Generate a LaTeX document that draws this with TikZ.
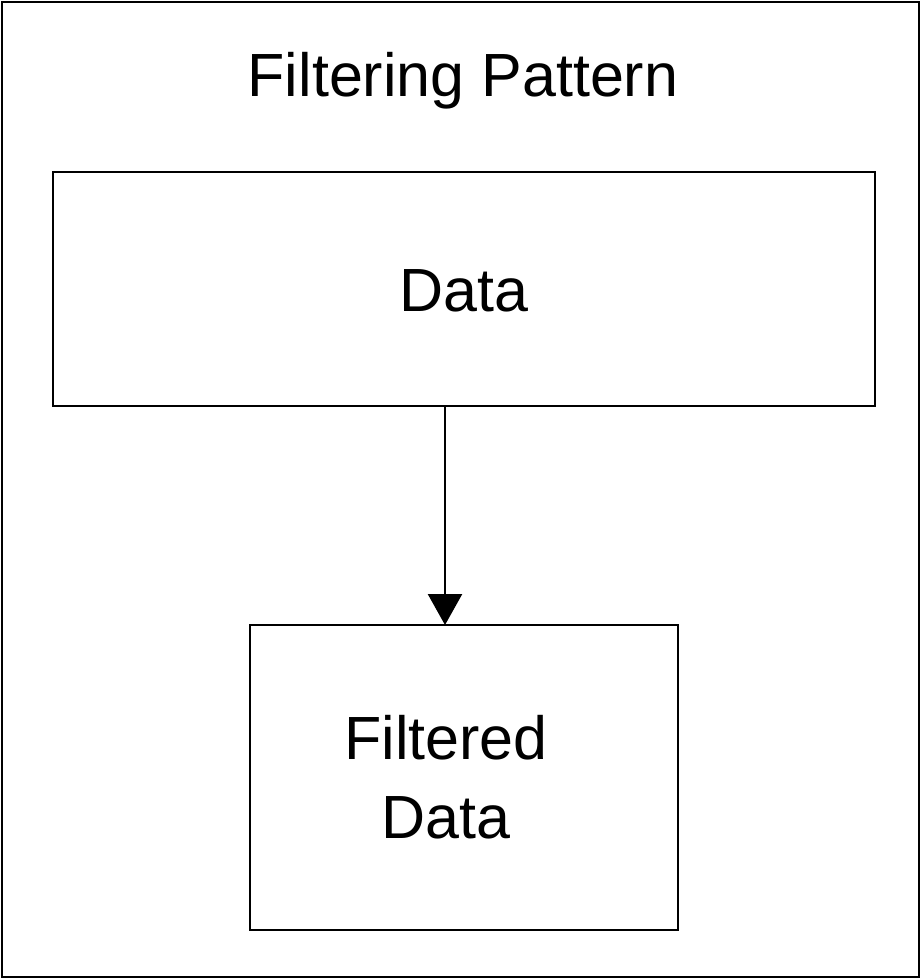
\documentclass[tikz,border=0pt]{standalone}
\usepackage{fontspec}
\setmainfont{Liberation Sans}
\usetikzlibrary{arrows.meta}
\begin{document}
\begin{tikzpicture}[x=1pt,y=-1pt,
  box/.style={draw,line width=2.5pt,inner sep=0pt},
  lbl/.style={font=\fontsize{61}{79}\selectfont,align=center,inner sep=0pt}]
\useasboundingbox (0,0) rectangle (922,979);
\draw[line width=2.5pt] (2,2) rectangle (919,977);
\node[lbl] (title) at (463,81) {Filtering Pattern};
\node[box,minimum width=822pt,minimum height=234pt] (data) at (464,289) {};
\node[lbl] at (464,291) {Data};
\node[box,minimum width=428pt,minimum height=305pt] (filt) at (464,777.5) {};
\node[lbl] at (446,777) {Filtered\\Data};
\coordinate (a1) at (445,406);
\coordinate (a2) at (445,625);
\draw[line width=2.5pt,-{Triangle[width=34pt,length=31pt]}] (a1) -- (a2);
\end{tikzpicture}
\end{document}
